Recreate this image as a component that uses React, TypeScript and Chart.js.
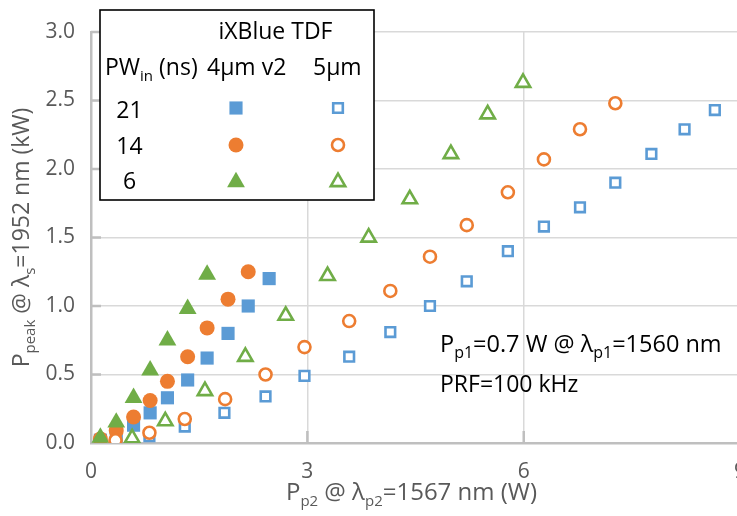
import React, { useEffect, useRef } from 'react';
import { Chart, registerables } from 'chart.js';

Chart.register(...registerables);

// ---- data ----
const sq4X = [0.13, 0.35, 0.59, 0.82, 1.06, 1.34, 1.61, 1.9, 2.18, 2.47];
const sq4Y = [0.02, 0.05, 0.13, 0.22, 0.33, 0.46, 0.62, 0.8, 1.0, 1.2];
const ci4X = [0.13, 0.35, 0.59, 0.82, 1.06, 1.34, 1.61, 1.9, 2.18];
const ci4Y = [0.03, 0.09, 0.19, 0.31, 0.45, 0.63, 0.84, 1.05, 1.25];
const tr4X = [0.13, 0.35, 0.59, 0.82, 1.06, 1.34, 1.61];
const tr4Y = [0.04, 0.15, 0.33, 0.53, 0.75, 0.98, 1.23];

const sq5X = [0.81, 1.3, 1.85, 2.42, 2.96, 3.58, 4.15, 4.7, 5.21, 5.78, 6.28, 6.78, 7.27, 7.77, 8.23, 8.65];
const sq5Y = [0.05, 0.12, 0.22, 0.34, 0.49, 0.63, 0.81, 1.0, 1.18, 1.4, 1.58, 1.72, 1.9, 2.11, 2.29, 2.43];
const ci5X = [0.34, 0.81, 1.3, 1.86, 2.42, 2.96, 3.58, 4.15, 4.7, 5.21, 5.78, 6.28, 6.78, 7.27];
const ci5Y = [0.02, 0.075, 0.175, 0.32, 0.5, 0.7, 0.89, 1.11, 1.36, 1.59, 1.83, 2.07, 2.29, 2.48];
const tr5X = [0.57, 1.03, 1.58, 2.14, 2.7, 3.28, 3.85, 4.42, 4.99, 5.5, 5.99];
const tr5Y = [0.035, 0.16, 0.38, 0.63, 0.93, 1.22, 1.5, 1.78, 2.11, 2.4, 2.63];

const xMin = 0;
const xMax = 9;
const xStep = 3;
const yMin = 0;
const yMax = 3;
const yStep = 0.5;

const legendTitle = 'iXBlue TDF';
const legendColHeads = ['4µm v2', '5µm'];
const legendRows = ['21', '14', '6'];

const BLUE = '#5B9BD5';
const ORANGE = '#ED7D31';
const GREEN = '#70AD47';
const FONT = '"Open Sans", sans-serif';
const GREYTXT = '#595959';

type Part = { t: string; sub?: boolean };

function richText(
  ctx: CanvasRenderingContext2D,
  parts: Part[],
  x: number,
  y: number,
  size: number,
  color: string,
  align: 'left' | 'center' | 'right' = 'left',
  subScale = 0.64
) {
  ctx.save();
  ctx.fillStyle = color;
  ctx.textBaseline = 'alphabetic';
  ctx.textAlign = 'left';
  const main = `${size}px ${FONT}`;
  const sub = `${Math.round(size * subScale)}px ${FONT}`;
  let total = 0;
  const widths = parts.map((p) => {
    ctx.font = p.sub ? sub : main;
    const w = ctx.measureText(p.t).width;
    total += w;
    return w;
  });
  let cx = align === 'center' ? x - total / 2 : align === 'right' ? x - total : x;
  parts.forEach((p, i) => {
    ctx.font = p.sub ? sub : main;
    ctx.fillText(p.t, cx, y + (p.sub ? size * 0.27 : 0));
    cx += widths[i];
  });
  ctx.restore();
}

function shape(
  ctx: CanvasRenderingContext2D,
  kind: string,
  x: number,
  y: number,
  r: number,
  fill: string,
  stroke: string,
  bw: number
) {
  ctx.save();
  ctx.beginPath();
  if (kind === 'rect') {
    const s = r * Math.SQRT1_2;
    ctx.rect(x - s, y - s, 2 * s, 2 * s);
  } else if (kind === 'circle') {
    ctx.arc(x, y, r, 0, Math.PI * 2);
  } else {
    for (let k = 0; k < 3; k++) {
      const a = (k * 2 * Math.PI) / 3;
      const px = x + Math.sin(a) * r;
      const py = y - Math.cos(a) * r;
      if (k === 0) ctx.moveTo(px, py);
      else ctx.lineTo(px, py);
    }
    ctx.closePath();
  }
  ctx.fillStyle = fill;
  ctx.fill();
  if (bw > 0) {
    ctx.lineWidth = bw;
    ctx.strokeStyle = stroke;
    ctx.stroke();
  }
  ctx.restore();
}

const markerDefs = [
  { style: 'rect', color: BLUE, rFill: 9.3, rOpen: 6.8 },
  { style: 'circle', color: ORANGE, rFill: 7.5, rOpen: 6.0 },
  { style: 'triangle', color: GREEN, rFill: 10.3, rOpen: 8.3 },
];
const OPEN_BW = 2.6;

const decorPlugin = {
  id: 'decor',
  beforeDatasetsDraw(chart: any) {
    const ctx: CanvasRenderingContext2D = chart.ctx;
    const { left, bottom } = chart.chartArea;
    const xs = chart.scales.x;
    const ys = chart.scales.y;
    ctx.save();
    ctx.strokeStyle = '#bfbfbf';
    ctx.lineWidth = 2.5;
    for (let v = yMin + yStep; v <= yMax + 1e-9; v += yStep) {
      const py = ys.getPixelForValue(v);
      ctx.beginPath();
      ctx.moveTo(left, py);
      ctx.lineTo(left + 10, py);
      ctx.stroke();
    }
    for (let v = xMin + xStep; v <= xMax + 1e-9; v += xStep) {
      const px = xs.getPixelForValue(v);
      ctx.beginPath();
      ctx.moveTo(px, bottom);
      ctx.lineTo(px, bottom - 12);
      ctx.stroke();
    }
    ctx.restore();
  },
  afterDraw(chart: any) {
    const ctx: CanvasRenderingContext2D = chart.ctx;
    const { top, bottom } = chart.chartArea;
    const cyPlot = (top + bottom) / 2;

    // axis titles
    richText(
      ctx,
      [{ t: 'P' }, { t: 'p2', sub: true }, { t: ' @ λ' }, { t: 'p2', sub: true }, { t: '=1567 nm (W)' }],
      411.5,
      500,
      24,
      GREYTXT,
      'center'
    );
    ctx.save();
    ctx.translate(29, cyPlot);
    ctx.rotate(-Math.PI / 2);
    richText(
      ctx,
      [{ t: 'P' }, { t: 'peak', sub: true }, { t: ' @ λ' }, { t: 's', sub: true }, { t: '=1952 nm (kW)' }],
      0,
      0,
      23,
      GREYTXT,
      'center'
    );
    ctx.restore();

    // annotation
    richText(
      ctx,
      [{ t: 'P' }, { t: 'p1', sub: true }, { t: '=0.7 W @ λ' }, { t: 'p1', sub: true }, { t: '=1560 nm' }],
      440,
      352,
      23.5,
      '#000',
      'left',
      0.68
    );
    richText(ctx, [{ t: 'PRF=100 kHz' }], 440, 392, 23, '#000');

    // legend box
    ctx.save();
    ctx.fillStyle = '#fff';
    ctx.fillRect(100, 10, 274, 190);
    ctx.strokeStyle = '#000';
    ctx.lineWidth = 1.6;
    ctx.strokeRect(100, 10, 274, 190);
    ctx.restore();

    richText(ctx, [{ t: legendTitle }], 275.5, 39, 23, '#000', 'center');
    richText(ctx, [{ t: 'PW' }, { t: 'in', sub: true }, { t: ' (ns)' }], 105, 75, 23, '#000');
    richText(ctx, [{ t: legendColHeads[0] }], 207, 75, 23, '#000');
    richText(ctx, [{ t: legendColHeads[1] }], 313, 75, 23, '#000');
    const rowY = [108, 145, 182];
    const rowBase = [118, 154, 189];
    legendRows.forEach((lab, i) => {
      richText(ctx, [{ t: lab }], 129.5, rowBase[i], 23, '#000', 'center');
      const m = markerDefs[i];
      shape(ctx, m.style, 236, rowY[i], m.rFill, m.color, m.color, 0);
      shape(ctx, m.style, 338, rowY[i], m.rOpen, '#fff', m.color, OPEN_BW);
    });
  },
};

function pts(xs: number[], ys: number[]) {
  return xs.map((x, i) => ({ x, y: ys[i] }));
}

export default function App() {
  const ref = useRef<HTMLCanvasElement>(null);
  useEffect(() => {
    document.body.style.margin = '0';
    const canvas = ref.current;
    if (!canvas) return;
    const filled = (i: number, data: any, order: number) => ({
      data,
      order,
      pointStyle: markerDefs[i].style,
      pointRadius: markerDefs[i].rFill,
      pointHoverRadius: markerDefs[i].rFill,
      backgroundColor: markerDefs[i].color,
      borderColor: markerDefs[i].color,
      borderWidth: 0,
    });
    const open = (i: number, data: any, order: number) => ({
      data,
      order,
      pointStyle: markerDefs[i].style,
      pointRadius: markerDefs[i].rOpen,
      pointHoverRadius: markerDefs[i].rOpen,
      backgroundColor: '#fff',
      borderColor: markerDefs[i].color,
      borderWidth: OPEN_BW,
    });
    const tickFont = { family: FONT, size: 21 };
    const chart = new Chart(canvas, {
      type: 'scatter',
      data: {
        datasets: [
          filled(0, pts(sq4X, sq4Y), 6),
          filled(1, pts(ci4X, ci4Y), 5),
          filled(2, pts(tr4X, tr4Y), 4),
          open(0, pts(sq5X, sq5Y), 3),
          open(1, pts(ci5X, ci5Y), 2),
          open(2, pts(tr5X, tr5Y), 1),
        ] as any,
      },
      options: {
        responsive: false,
        animation: false,
        events: [],
        layout: { padding: { left: 0, right: 1, top: 32, bottom: 0 } },
        plugins: { legend: { display: false }, tooltip: { enabled: false } },
        scales: {
          x: {
            type: 'linear',
            min: xMin,
            max: xMax,
            ticks: { stepSize: xStep, color: GREYTXT, font: tickFont, padding: 16, maxRotation: 0 },
            grid: { color: '#d9d9d9', lineWidth: 1.5, drawTicks: false },
            border: { color: '#bfbfbf', width: 2.5 },
            afterFit(s: any) {
              s.height = 73;
              s.paddingLeft = 0;
              s.paddingRight = 0;
            },
          },
          y: {
            min: yMin,
            max: yMax,
            ticks: {
              stepSize: yStep,
              color: GREYTXT,
              font: tickFont,
              padding: 16,
              callback: (v: any) => Number(v).toFixed(1),
            },
            grid: { color: '#d9d9d9', lineWidth: 1.5, drawTicks: false },
            border: { color: '#bfbfbf', width: 2.5 },
            afterFit(s: any) {
              s.width = 91;
              s.paddingTop = 0;
              s.paddingBottom = 0;
            },
          },
        },
      } as any,
      plugins: [decorPlugin],
    });
    return () => chart.destroy();
  }, []);
  return (
    <div style={{ position: 'absolute', left: 0, top: 0, width: 737, height: 516, overflow: 'hidden', background: '#fff' }}>
      <canvas ref={ref} width={751} height={516} style={{ display: 'block' }} />
    </div>
  );
}
